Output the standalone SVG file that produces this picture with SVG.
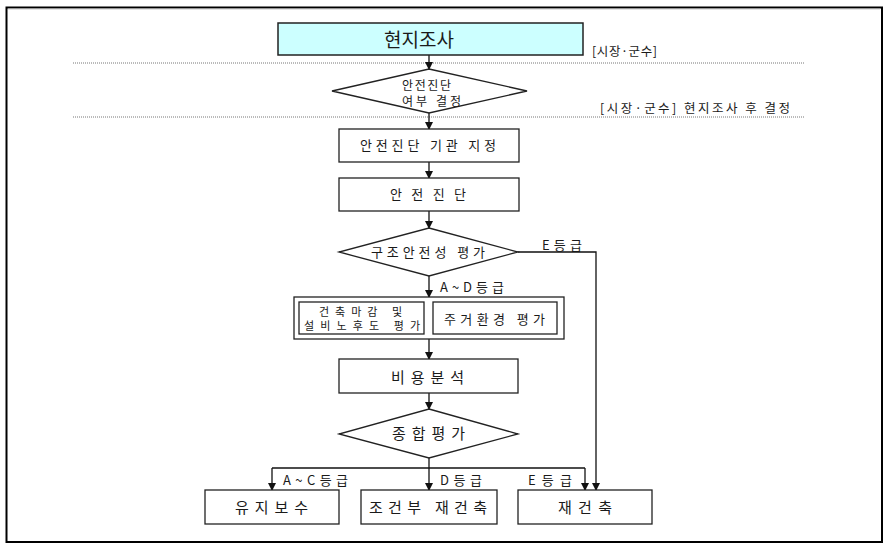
<svg xmlns="http://www.w3.org/2000/svg" width="889" height="551" viewBox="0 0 889 551">
<style>
  .box { fill: #fff; stroke: #222; stroke-width: 1.3; }
  .t { font-family: "Noto Sans CJK KR", "Liberation Sans", sans-serif; fill: #1a1a1a; }
  .s11 { font-size: 11px; }
  .s12 { font-size: 12.5px; }
  .s12b { font-size: 12px; }
  .s13 { font-size: 13px; }
  .s15 { font-size: 15px; }
  .ln { fill: none; stroke: #111; stroke-width: 1.3; }
  .dot { stroke: #777; stroke-width: 1; stroke-dasharray: 1 1; }
</style>
<defs>
  <marker id="arr" markerWidth="8" markerHeight="8" refX="7" refY="4" orient="auto" markerUnits="userSpaceOnUse">
    <path d="M0,0 L8,4 L0,8 Z" fill="#111"/>
  </marker>
</defs>
<rect width="889" height="551" fill="#fff"/>
<rect x="6.5" y="7.5" width="875.5" height="534.5" fill="none" stroke="#000" stroke-width="2"/>
<line x1="8" y1="9" x2="880" y2="9" stroke="#bbb" stroke-width="0.8"/>

<g id="guides">
  <line class="dot" x1="73" y1="63" x2="804" y2="63"/>
  <line class="dot" x1="73" y1="117" x2="804" y2="117"/>
  <text class="t s12" x="592" y="56" textLength="65" lengthAdjust="spacing">[시장·군수]</text>
  <text class="t s12" x="600" y="112.5" textLength="190" lengthAdjust="spacing">[시장·군수] 현지조사 후 결정</text>
</g>

<g id="connectors">
  <line class="ln" x1="429" y1="55" x2="429" y2="69" marker-end="url(#arr)"/>
  <line class="ln" x1="429" y1="113" x2="429" y2="129" marker-end="url(#arr)"/>
  <line class="ln" x1="429" y1="162" x2="429" y2="178" marker-end="url(#arr)"/>
  <line class="ln" x1="429" y1="211" x2="429" y2="228" marker-end="url(#arr)"/>
  <line class="ln" x1="429" y1="276" x2="429" y2="297" marker-end="url(#arr)"/>
  <polyline class="ln" points="518,252 596,252 596,490" marker-end="url(#arr)"/>
  <line class="ln" x1="429" y1="339" x2="429" y2="359" marker-end="url(#arr)"/>
  <line class="ln" x1="429" y1="393" x2="429" y2="409" marker-end="url(#arr)"/>
  <line class="ln" x1="429" y1="458" x2="429" y2="490" marker-end="url(#arr)"/>
  <line class="ln" x1="272" y1="468" x2="585" y2="468"/>
  <line class="ln" x1="272" y1="468" x2="272" y2="490" marker-end="url(#arr)"/>
  <line class="ln" x1="585" y1="468" x2="585" y2="490" marker-end="url(#arr)"/>
  <text class="t s13" x="542" y="249.5" textLength="40" lengthAdjust="spacing">E등급</text>
  <text class="t s13" x="440" y="292" textLength="64" lengthAdjust="spacing">A~D등급</text>
  <text class="t s13" x="283" y="485" textLength="65" lengthAdjust="spacing">A~C등급</text>
  <text class="t s13" x="440" y="485" textLength="42" lengthAdjust="spacing">D등급</text>
  <text class="t s13" x="528" y="485" textLength="44" lengthAdjust="spacing">E등급</text>
</g>

<g id="n-survey">
  <rect x="278" y="23" width="305" height="32" fill="#ccffff" stroke="#222" stroke-width="1.5"/>
  <text class="t" x="384" y="47" font-size="19" textLength="70" lengthAdjust="spacing">현지조사</text>
</g>

<g id="n-decide">
  <polygon class="box" points="429,69 527,91 429,113 332,91"/>
  <text class="t s12b" x="402" y="89.5" textLength="49" lengthAdjust="spacing">안전진단</text>
  <text class="t s12b" x="402" y="106" textLength="59" lengthAdjust="spacing">여부 결정</text>
</g>

<g id="n-agency">
  <rect class="box" x="339" y="129" width="180" height="33"/>
  <text class="t s13" x="360" y="150" textLength="136" lengthAdjust="spacing">안전진단 기관 지정</text>
</g>

<g id="n-diag">
  <rect class="box" x="339" y="178" width="180" height="33"/>
  <text class="t s13" x="390" y="199" textLength="76" lengthAdjust="spacing">안 전 진 단</text>
</g>

<g id="n-struct">
  <polygon class="box" points="429,228 518,252 429,276 339,252"/>
  <text class="t s13" x="371" y="257" textLength="114" lengthAdjust="spacing">구조안전성 평가</text>
</g>

<g id="n-group">
  <rect class="box" x="294" y="297" width="270" height="42"/>
  <rect class="box" x="299" y="302" width="125" height="32"/>
  <rect class="box" x="433" y="302" width="124" height="32"/>
  <text class="t s11" x="319" y="315.5" textLength="83" lengthAdjust="spacing">건축마감 및</text>
  <text class="t s11" x="304" y="330" textLength="116" lengthAdjust="spacing">설비노후도 평가</text>
  <text class="t s13" x="444" y="324" textLength="101" lengthAdjust="spacing">주거환경 평가</text>
</g>

<g id="n-cost">
  <rect class="box" x="339" y="359" width="179" height="34"/>
  <text class="t s15" x="391" y="382.5" textLength="73" lengthAdjust="spacing">비용분석</text>
</g>

<g id="n-total">
  <polygon class="box" points="429,409 518,434 429,458 339,434"/>
  <text class="t s15" x="392" y="439" textLength="73" lengthAdjust="spacing">종합평가</text>
</g>

<g id="n-maint">
  <rect class="box" x="205" y="490" width="134" height="34"/>
  <text class="t s15" x="235" y="513" textLength="73" lengthAdjust="spacing">유지보수</text>
</g>

<g id="n-cond">
  <rect class="box" x="361" y="490" width="136" height="34"/>
  <text class="t s15" x="369" y="513" textLength="118" lengthAdjust="spacing">조건부 재건축</text>
</g>

<g id="n-rebuild">
  <rect class="box" x="518" y="490" width="134" height="34"/>
  <text class="t s15" x="558" y="513" textLength="54" lengthAdjust="spacing">재건축</text>
</g>
</svg>
